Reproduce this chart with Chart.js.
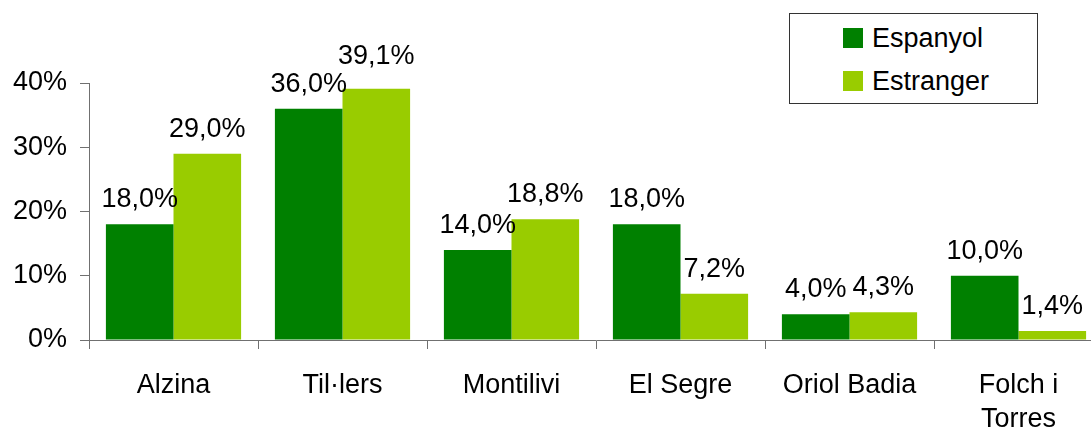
<!DOCTYPE html>
<html lang="ca">

<head>
    <meta charset="UTF-8">
    <title>Espanyol / Estranger</title>
    <style>
        html, body { margin: 0; padding: 0; background: #fff; overflow: hidden; }
        #wrap { position: relative; width: 1105px; height: 430px; }
        #legend {
            position: absolute; left: 789px; top: 13px; width: 247px; height: 89px;
            border: 1px solid #333; background: #fff;
            font-family: "Liberation Sans", Arial, sans-serif; font-size: 27px; color: #000;
        }
        #legend .item { position: absolute; left: 53px; height: 26px; line-height: 26px; }
        #legend .sw { position: absolute; left: 0; top: 3px; width: 20px; height: 20px; }
        #legend .lbl { position: absolute; left: 29px; top: 0; white-space: nowrap; }
    </style>
</head>

<body>
    <div id="wrap">
        <canvas id="myChart"></canvas>
        <div id="legend"></div>
    </div>
    <script src="https://cdn.jsdelivr.net/npm/chart.js"></script>

    <script>
        // data
        var categories = ['Alzina', 'Til·lers', 'Montilivi', 'El Segre', 'Oriol Badia', ['Folch i', 'Torres']];
        var seriesNames = ['Espanyol', 'Estranger'];
        var espanyol = [18.0, 36.0, 14.0, 18.0, 4.0, 10.0];
        var estranger = [29.0, 39.1, 18.8, 7.2, 4.3, 1.4];
        var seriesColors = ['#008000', '#99cc00'];
        var yTicks = [0, 10, 20, 30, 40];

        var fontFamily = '"Liberation Sans", Arial, sans-serif';

        // legend (html)
        var legendTop = [11, 54];
        seriesNames.forEach(function (name, i) {
            var strHTML = `<div class="item" style="top:${legendTop[i]}px"><span class="sw" style="background:${seriesColors[i]}"></span><span class="lbl">${name}</span></div>`;
            document.getElementById('legend').insertAdjacentHTML('beforeend', strHTML);
        });

        // value labels above the bars
        var valueLabels = {
            id: 'valueLabels',
            afterDatasetsDraw: function (chart) {
                var ctx = chart.ctx;
                var top = chart.chartArea.top;
                ctx.save();
                ctx.font = '27px ' + fontFamily;
                ctx.fillStyle = '#000';
                ctx.textAlign = 'center';
                ctx.textBaseline = 'alphabetic';
                chart.data.datasets.forEach(function (ds, i) {
                    chart.getDatasetMeta(i).data.forEach(function (bar, j) {
                        var txt = ds.data[j].toFixed(1).replace('.', ',') + '%';
                        var y = bar.y - 17;
                        // label near the top edge gets pushed up a bit (like excel does)
                        if (bar.y - top < 12) y -= 8;
                        ctx.fillText(txt, bar.x, y);
                    });
                });
                ctx.restore();
            }
        };

        const ctx01 = document.getElementById('myChart');
        var mychart = new Chart(ctx01, {
            type: 'bar',
            data: {
                labels: categories,
                datasets: [{
                    label: seriesNames[0],
                    data: espanyol,
                    backgroundColor: seriesColors[0],
                    borderWidth: 0
                }, {
                    label: seriesNames[1],
                    data: estranger,
                    backgroundColor: seriesColors[1],
                    borderWidth: 0
                }]
            },
            options: {
                responsive: true,
                maintainAspectRatio: false,
                animation: false,
                categoryPercentage: 0.8,
                barPercentage: 1.0,
                layout: {
                    padding: { top: 83, right: 2, left: 0, bottom: 0 }
                },
                plugins: {
                    legend: { display: false },
                    tooltip: { enabled: false }
                },
                scales: {
                    x: {
                        grid: {
                            offset: true,
                            drawOnChartArea: false,
                            tickLength: 9,
                            color: '#707070'
                        },
                        border: { color: '#707070', width: 1 },
                        ticks: {
                            color: '#000',
                            font: { family: fontFamily, size: 27, lineHeight: 1.25 },
                            padding: 20,
                            maxRotation: 0,
                            autoSkip: false
                        },
                        afterFit: function (scale) { scale.height = 90; }
                    },
                    y: {
                        min: 0,
                        max: 40,
                        afterBuildTicks: function (scale) {
                            scale.ticks = yTicks.map(function (v) { return { value: v }; });
                        },
                        grid: {
                            drawOnChartArea: false,
                            tickLength: 9,
                            color: '#707070'
                        },
                        border: { color: '#707070', width: 1 },
                        ticks: {
                            color: '#000',
                            font: { family: fontFamily, size: 27 },
                            padding: 13,
                            callback: function (v) { return v + '%'; }
                        },
                        afterFit: function (scale) { scale.width = 89; }
                    }
                }
            },
            plugins: [valueLabels]
        });
    </script>
</body>

</html>
